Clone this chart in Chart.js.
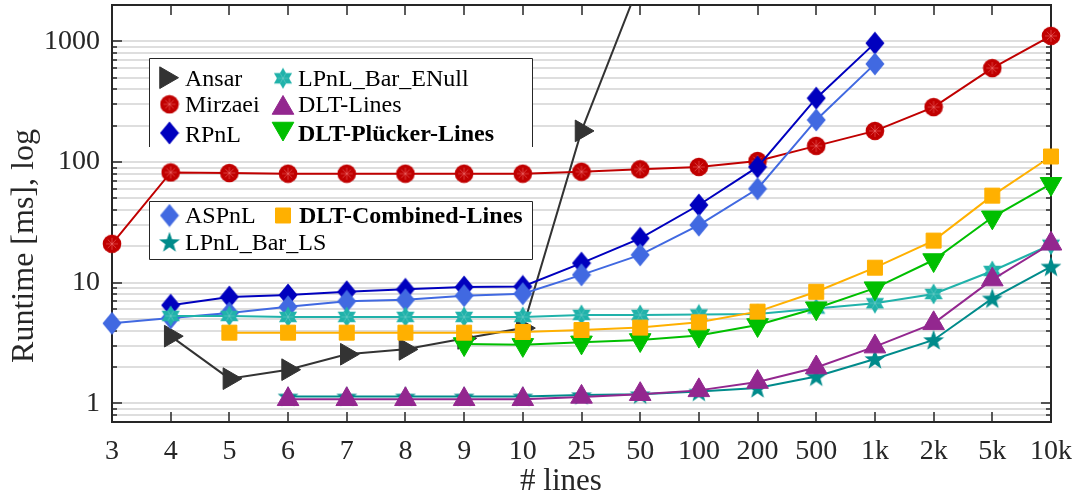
<!DOCTYPE html>
<html><head><meta charset="utf-8">
<script src="https://cdn.jsdelivr.net/npm/chart.js@4.4.1/dist/chart.umd.min.js"></script>
<style>html,body{margin:0;padding:0;background:#fff;}canvas{display:block;}</style>
</head><body>
<canvas id="c" width="1075" height="495"></canvas>
<script>
// ---------------- data ----------------
const categories = ['3','4','5','6','7','8','9','10','25','50','100','200','500','1k','2k','5k','10k'];
const ansar        = [null, 3.6, 1.6, 1.9, 2.55, 2.8, 3.45, 4.2, 181, 3150, null, null, null, null, null, null, null];
const mirzaei      = [21, 82, 81, 80, 80, 80, 80, 80, 83, 87, 91, 102, 136, 181, 285, 600, 1110];
const rpnl         = [null, 6.5, 7.6, 7.9, 8.4, 8.8, 9.2, 9.3, 14.5, 23.3, 44, 91, 338, 966, null, null, null];
const aspnl        = [4.6, 5.1, 5.6, 6.3, 7.0, 7.2, 7.8, 8.1, 11.6, 17.0, 30, 60, 223, 650, null, null, null];
const lpnlBarLS    = [null, null, null, 1.14, 1.14, 1.14, 1.14, 1.14, 1.17, 1.19, 1.25, 1.34, 1.67, 2.33, 3.35, 7.4, 13.6];
const lpnlBarENull = [null, 5.3, 5.3, 5.2, 5.2, 5.2, 5.2, 5.2, 5.4, 5.4, 5.45, 5.5, 6.1, 6.75, 8.06, 12.5, 20.6];
const dltLines     = [null, null, null, 1.08, 1.08, 1.08, 1.08, 1.08, 1.13, 1.19, 1.28, 1.5, 1.98, 2.95, 4.6, 10.6, 21];
const dltPlucker   = [null, null, null, null, null, null, 3.1, 3.05, 3.2, 3.35, 3.64, 4.46, 6.14, 9.0, 15.4, 34.8, 66];
const dltCombined  = [null, null, 3.85, 3.85, 3.85, 3.85, 3.85, 3.9, 4.05, 4.24, 4.69, 5.75, 8.4, 13.3, 22.3, 52.6, 111];
const yTickLabels  = ['1', '10', '100', '1000'];
const xTitle = '# lines';
const yTitle = 'Runtime [ms], log';

// ---------------- styles ----------------
const serif = "'Liberation Serif','Times New Roman',Times,serif";
const frameColor = '#262626';
const C = {
  ansar: '#333333', mirzaei: '#C00000', rpnl: '#0000BE', aspnl: '#4169E1',
  ls: '#008B8B', enull: '#20B2AA', dltLines: '#93278F', plucker: '#00BF00', combined: '#FFB000'
};

function mk(w, h, fn) { const c = document.createElement('canvas'); c.width = w; c.height = h; fn(c.getContext('2d'), w, h); return c; }
function diamond(color) {
  return mk(20, 24, (g) => { g.fillStyle = color; g.beginPath(); g.moveTo(10, 0.5); g.lineTo(19.5, 12); g.lineTo(10, 23.5); g.lineTo(0.5, 12); g.closePath(); g.fill(); });
}
const diamondRP = diamond(C.rpnl);
const diamondAS = diamond(C.aspnl);
const circleMz = mk(20, 20, (g) => {
  g.fillStyle = C.mirzaei; g.beginPath(); g.arc(10, 10, 9.3, 0, Math.PI * 2); g.fill();
  g.strokeStyle = 'rgba(255,140,140,0.55)'; g.lineWidth = 0.8; g.beginPath();
  for (let k = 0; k < 4; k++) { const a = k * Math.PI / 4; g.moveTo(10 - Math.cos(a) * 6, 10 - Math.sin(a) * 6); g.lineTo(10 + Math.cos(a) * 6, 10 + Math.sin(a) * 6); }
  g.stroke();
});
const hexagram = mk(22, 22, (g) => {
  const R = 10.5, cx = 11, cy = 11; g.fillStyle = C.enull;
  for (let t = 0; t < 2; t++) {
    g.beginPath();
    for (let k = 0; k < 3; k++) { const a = -Math.PI / 2 + t * Math.PI / 3 + k * 2 * Math.PI / 3; const px = cx + R * Math.cos(a), py = cy + R * Math.sin(a); k ? g.lineTo(px, py) : g.moveTo(px, py); }
    g.closePath(); g.fill();
  }
  g.strokeStyle = 'rgba(255,255,255,0.25)'; g.lineWidth = 0.8; g.beginPath();
  for (let k = 0; k < 6; k++) { const a = k * Math.PI / 3; g.moveTo(cx, cy); g.lineTo(cx + 5.5 * Math.cos(a), cy + 5.5 * Math.sin(a)); }
  g.stroke();
});
const pentagram = mk(22, 22, (g) => {
  const R = 11, r = 11 * 0.40, cx = 11, cy = 11.8; g.fillStyle = C.ls; g.beginPath();
  for (let k = 0; k < 10; k++) { const a = -Math.PI / 2 + k * Math.PI / 5; const rr = k % 2 ? r : R; const px = cx + rr * Math.cos(a), py = cy + rr * Math.sin(a); k ? g.lineTo(px, py) : g.moveTo(px, py); }
  g.closePath(); g.fill();
});

function ds(idx, label, data, color, style, radius, rotation) {
  return {
    label, data, borderColor: color, backgroundColor: color,
    pointBackgroundColor: color, pointBorderColor: color, pointBorderWidth: 1,
    pointStyle: style, pointRadius: radius, pointHoverRadius: radius, pointRotation: rotation || 0,
    borderWidth: 2, tension: 0, fill: false,
    clip: { left: 20, right: 30, top: 0, bottom: 20 },
    order: 20 - idx
  };
}

const datasets = [
  ds(0, 'Ansar', ansar, C.ansar, 'triangle', 12.5, 90),
  ds(1, 'Mirzaei', mirzaei, C.mirzaei, circleMz, 9),
  ds(2, 'RPnL', rpnl, C.rpnl, diamondRP, 10),
  ds(3, 'ASPnL', aspnl, C.aspnl, diamondAS, 10),
  ds(4, 'LPnL_Bar_LS', lpnlBarLS, C.ls, pentagram, 10),
  ds(5, 'LPnL_Bar_ENull', lpnlBarENull, C.enull, hexagram, 10),
  ds(6, 'DLT-Lines', dltLines, C.dltLines, 'triangle', 12.5, 0),
  ds(7, 'DLT-Plücker-Lines', dltPlucker, C.plucker, 'triangle', 12.5, 180),
  ds(8, 'DLT-Combined-Lines', dltCombined, C.combined, 'rect', 10.6, 0)
];

// ---------------- plugins ----------------
const framePlugin = {
  id: 'frameTicks',
  beforeDatasetsDraw(chart) {
    const { ctx, chartArea: a, scales: { x, y } } = chart;
    ctx.save();
    ctx.strokeStyle = frameColor; ctx.lineWidth = 1.5; ctx.beginPath();
    for (let i = 1; i < categories.length - 1; i++) {
      const px = Math.round(x.getPixelForValue(i));
      ctx.moveTo(px, a.bottom); ctx.lineTo(px, a.bottom - 10);
      ctx.moveTo(px, a.top); ctx.lineTo(px, a.top + 10);
    }
    y.ticks.forEach(t => {
      const py = Math.round(y.getPixelForValue(t.value));
      const len = t.major ? 10 : 5;
      ctx.moveTo(a.left, py); ctx.lineTo(a.left + len, py);
      ctx.moveTo(a.right, py); ctx.lineTo(a.right - len, py);
    });
    ctx.stroke();
    ctx.lineWidth = 2;
    ctx.strokeRect(a.left, a.top, a.right - a.left, a.bottom - a.top);
    ctx.restore();
  },
  afterDraw(chart) {
    const { ctx } = chart;
    ctx.save();
    ctx.fillStyle = frameColor;
    ctx.font = '31px ' + serif; ctx.textAlign = 'center'; ctx.textBaseline = 'alphabetic';
    ctx.fillText(xTitle, 561, 490);
    ctx.translate(33, 246); ctx.rotate(-Math.PI / 2);
    ctx.font = '32px ' + serif;
    ctx.fillText(yTitle, 0, 0);
    ctx.restore();
  }
};

const legendBoxes = [
  { box: [149.5, 58.5, 532.5, 147], bottomBorder: false, items: [
    { label: 'Ansar', m: [166, 77.7], t: [185, 86] },
    { label: 'Mirzaei', m: [169.5, 104.3], t: [185, 112] },
    { label: 'RPnL', m: [169.5, 133], t: [185, 141.5] },
    { label: 'LPnL_Bar_ENull', m: [283, 78.3], t: [298, 85.5] },
    { label: 'DLT-Lines', m: [283, 108], t: [298, 112] },
    { label: 'DLT-Plücker-Lines', m: [283, 128.5], t: [298, 140.5], bold: true }
  ]},
  { box: [149.5, 201.5, 532.5, 259.5], bottomBorder: true, items: [
    { label: 'ASPnL', m: [169.5, 215.5], t: [185, 223.3] },
    { label: 'LPnL_Bar_LS', m: [169.5, 242], t: [185, 249.5] },
    { label: 'DLT-Combined-Lines', m: [283, 215.5], t: [299, 222.7], bold: true }
  ]}
];

const legendPlugin = {
  id: 'customLegend',
  afterDatasetsDraw(chart) {
    const { ctx } = chart;
    ctx.save();
    legendBoxes.forEach(lb => {
      const [x1, y1, x2, y2] = lb.box;
      ctx.fillStyle = '#fff'; ctx.fillRect(x1, y1, x2 - x1, y2 - y1);
      ctx.strokeStyle = frameColor; ctx.lineWidth = 1; ctx.beginPath();
      ctx.moveTo(x1, y2); ctx.lineTo(x1, y1); ctx.lineTo(x2, y1); ctx.lineTo(x2, y2);
      if (lb.bottomBorder) ctx.lineTo(x1, y2);
      ctx.stroke();
      lb.items.forEach(it => {
        const d = chart.data.datasets.find(s => s.label === it.label);
        ctx.fillStyle = d.pointBackgroundColor; ctx.strokeStyle = d.pointBorderColor; ctx.lineWidth = 1;
        Chart.helpers.drawPoint(ctx, { pointStyle: d.pointStyle, rotation: d.pointRotation, radius: d.pointRadius, borderWidth: 1 }, it.m[0], it.m[1]);
        ctx.fillStyle = '#000';
        ctx.font = (it.bold ? 'bold ' : '') + '24px ' + serif;
        ctx.textAlign = 'left'; ctx.textBaseline = 'alphabetic';
        ctx.fillText(it.label, it.t[0], it.t[1]);
      });
    });
    ctx.restore();
  }
};

// ---------------- chart ----------------
new Chart(document.getElementById('c'), {
  type: 'line',
  data: { labels: categories, datasets },
  plugins: [framePlugin, legendPlugin],
  options: {
    responsive: false, animation: false, devicePixelRatio: 1, events: [],
    layout: { autoPadding: false, padding: { left: 0, right: 24, top: 5, bottom: 0 } },
    plugins: { legend: { display: false }, tooltip: { enabled: false }, title: { display: false } },
    scales: {
      x: {
        type: 'category', offset: false,
        grid: { display: false }, border: { display: false },
        ticks: { color: frameColor, font: { family: serif, size: 28 }, padding: 5, maxRotation: 0, autoSkip: false },
        afterFit(s) { s.height = 73; s.paddingLeft = 0; s.paddingRight = 0; }
      },
      y: {
        type: 'logarithmic', min: 0.7, max: 2000,
        afterBuildTicks(s) {
          const t = [];
          for (let e = -1; e <= 3; e++) for (let m = 1; m <= 9; m++) {
            const v = +(m * Math.pow(10, e)).toPrecision(6);
            if (v >= 0.7 && v <= 2000) t.push({ value: v, major: m === 1 });
          }
          s.ticks = t;
        },
        grid: { color: '#dedede', lineWidth: 2, drawTicks: false }, border: { display: false },
        ticks: {
          color: frameColor, font: { family: serif, size: 28 }, padding: 12, autoSkip: false,
          callback: (v) => yTickLabels.includes(String(v)) ? String(v) : ''
        },
        afterFit(s) { s.width = 112; s.paddingTop = 0; s.paddingBottom = 0; }
      }
    }
  }
});
</script>
</body></html>
